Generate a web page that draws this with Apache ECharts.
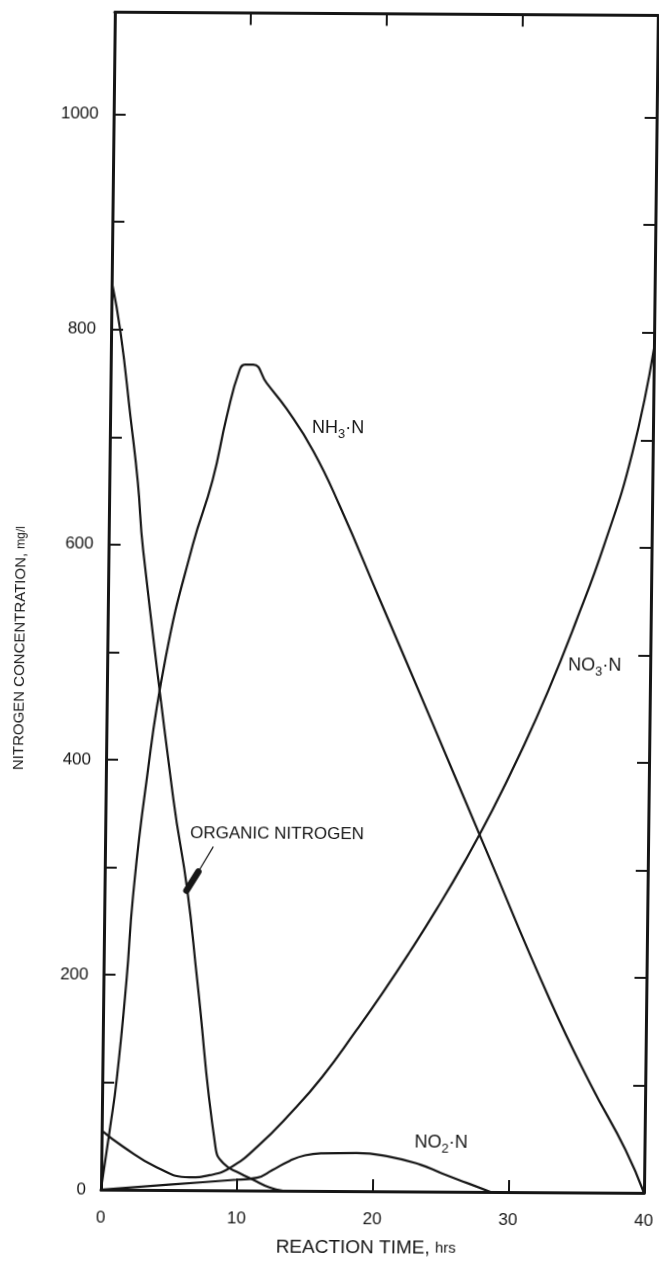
<!DOCTYPE html>
<html><head><meta charset="utf-8">
<script src="https://cdn.jsdelivr.net/npm/echarts@6/dist/echarts.min.js"></script>
<style>
html,body{margin:0;padding:0;background:#fff;overflow:hidden;width:659px;height:1262px}
#c{position:absolute;left:0;top:0;width:680px;height:1262px;transform-origin:0 0;transform:matrix(1,0.006,-0.0118,1,0,0)}
</style></head><body><div id="c"></div>
<script>
// Reaction time (hrs) vs nitrogen concentration (mg/l)
const organicN = [[0,845],[0.7,797],[1.5,719],[2.1,658],[2.55,595],[5,363],[6.1,279],[6.9,196],[8.4,40],[9,25],[10.2,16],[11.2,10],[12.4,3],[13.4,0]];
const nh3N = [[0,0],[0.6,56],[1.06,102],[1.7,195],[2.1,272],[2.9,370],[4.3,495],[6.2,600],[7.6,660],[8.6,720],[9.5,763],[9.9,768],[10.5,768],[11.5,751],[13,727],[15,688],[17,637],[20,551],[24,436],[28,320],[32.9,179],[36,100],[38.6,40],[40,0]];
const no3N = [[0,55],[1.6,40],[4.1,21],[6.5,12],[8,14],[9.5,21],[11.5,41],[13.9,72],[16.2,106],[18.7,150],[20.6,185],[22.5,222],[24.5,263],[26.5,307],[28.5,355],[30.5,408],[32.5,466],[34.5,531],[36.5,602],[38.5,688],[40,785]];
const no2N = [[0,0],[5,5],[10,10],[11.5,12],[12.6,19],[13.9,28],[15,33],[16.3,35],[18.8,35.5],[21.3,32],[23.5,25],[25.1,17],[27,8],[28.7,0]];
const yTickLabels = [0,200,400,600,800,1000];
const xTickLabels = [0,10,20,30,40];

const INK = '#161616';
const FONT = '"Liberation Sans", Arial, sans-serif';
const chart = echarts.init(document.getElementById('c'));
const axisLine = {show:true, onZero:false, lineStyle:{color:INK, width:3}};
const tick = {show:true, inside:true, length:12, lineStyle:{color:INK, width:2}};
function line(name, data){
  return {name, type:'line', data, showSymbol:false, smooth:0.5, xAxisIndex:0, yAxisIndex:0,
    lineStyle:{color:INK, width:2.2}, z:3};
}
const sub = (a,b,c)=>({text:'{a|'+a+'}{b|'+b+'}{a|'+c+'}',
  rich:{a:{fontSize:18, lineHeight:26, fill:INK, fontFamily:FONT}, b:{fontSize:13, lineHeight:14, verticalAlign:'bottom', fill:INK, fontFamily:FONT}}});
chart.setOption({
  animation:false,
  backgroundColor:'#fff',
  grid:{left:115, top:11.5, right:22, bottom:73},
  xAxis:[
    {type:'value', min:0, max:40, interval:10, position:'bottom',
     axisLine, axisTick:tick, splitLine:{show:false},
     axisLabel:{show:true, margin:20, fontSize:17, color:INK, fontFamily:FONT,
       formatter:v=>xTickLabels.includes(v)?String(v):''},
     name:'{a|REACTION TIME, }{b|hrs}', nameLocation:'middle', nameGap:47,
     nameTextStyle:{padding:[0,12,0,0], rich:{a:{fontSize:19, color:INK, fontFamily:FONT}, b:{fontSize:15, color:INK, fontFamily:FONT}}}},
    {type:'value', min:0, max:40, interval:10, position:'top',
     axisLine, axisTick:tick, axisLabel:{show:false}, splitLine:{show:false}}
  ],
  yAxis:[
    {type:'value', min:0, max:1095, interval:100, position:'left',
     axisLine, axisTick:tick, splitLine:{show:false},
     axisLabel:{show:true, margin:15, fontSize:17, color:INK, fontFamily:FONT, showMaxLabel:false,
       formatter:v=>yTickLabels.includes(v)?String(v):''}},
    {type:'value', min:0, max:1095, interval:100, position:'right',
     axisLine, axisTick:tick, axisLabel:{show:false}, splitLine:{show:false}}
  ],
  series:[
    line('Organic nitrogen', organicN),
    line('NH3-N', nh3N),
    line('NO3-N', no3N),
    line('NO2-N', no2N)
  ],
  graphic:[
    {type:'text', x:28, y:648, rotation:Math.PI/2,
     style:{text:'{a|NITROGEN CONCENTRATION, }{b|mg/l}', align:'center', verticalAlign:'middle',
       rich:{a:{fontSize:15, fill:INK, fontFamily:FONT}, b:{fontSize:12, fill:INK, fontFamily:FONT}}}},
    {type:'text', x:317, y:413, style:sub('NH','3','·N')},
    {type:'text', x:576, y:649, style:sub('NO','3','·N')},
    {type:'text', x:428, y:1127, style:sub('NO','2','·N')},
    {type:'text', x:200, y:824, style:{text:'ORGANIC NITROGEN', fontSize:17, fill:INK, fontFamily:FONT}},
    {type:'line', shape:{x1:223.3, y1:845.4, x2:208.6, y2:870.5}, style:{stroke:INK, lineWidth:1.2}},
    {type:'line', shape:{x1:208.6, y1:870.5, x2:197, y2:889.5}, style:{stroke:INK, lineWidth:6.5, lineCap:'round'}}
  ]
});
</script></body></html>
